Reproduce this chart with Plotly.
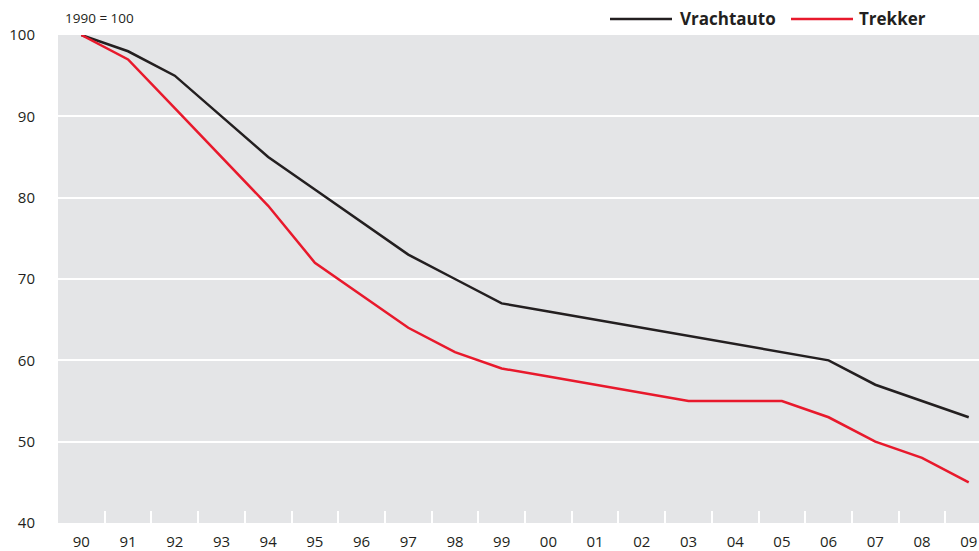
import plotly.graph_objects as go

years = ["90", "91", "92", "93", "94", "95", "96", "97", "98", "99",
         "00", "01", "02", "03", "04", "05", "06", "07", "08", "09"]
vrachtauto = [100, 98, 95, 90, 85, 81, 77, 73, 70, 67,
              66, 65, 64, 63, 62, 61, 60, 57, 55, 53]
trekker = [100, 97, 91, 85, 79, 72, 68, 64, 61, 59,
           58, 57, 56, 55, 55, 55, 53, 50, 48, 45]
series_names = ["Vrachtauto", "Trekker"]
y_ticks = [40, 50, 60, 70, 80, 90, 100]

BLACK = "#231f20"
RED = "#e8192c"
FONT = "Open Sans"

W, H = 979, 551
L, R, T, B = 58, 0, 35, 28
pw, ph = W - L - R, H - T - B

fig = go.Figure()
for name, vals, col in [(series_names[0], vrachtauto, BLACK), (series_names[1], trekker, RED)]:
    fig.add_trace(go.Scatter(x=years, y=vals, mode="lines", name=name,
                             line=dict(color=col, width=2.5), showlegend=False))

# hand-drawn legend (long line keys) in the top-right margin
def px_x(p):
    return (p - L) / pw

def px_y(p):
    return 1 + (T - p) / ph

legend_items = [(series_names[0], BLACK, 610, 672, 678), (series_names[1], RED, 791, 853, 857)]
for name, col, x0, x1, xt in legend_items:
    fig.add_shape(type="line", xref="paper", yref="paper",
                  x0=px_x(x0), x1=px_x(x1), y0=px_y(19), y1=px_y(19),
                  line=dict(color=col, width=2.5))
    fig.add_annotation(text=f"<b>{name}</b>", xref="paper", yref="paper",
                       x=px_x(xt), y=px_y(19), xanchor="left", yanchor="middle",
                       showarrow=False, font=dict(family=FONT, size=17, color=BLACK))

fig.add_annotation(text="1990 = 100", xref="paper", yref="paper",
                   x=px_x(63), y=px_y(18), xanchor="left", yanchor="middle",
                   showarrow=False, font=dict(family=FONT, size=13.5, color=BLACK))

fig.update_layout(
    width=W, height=H,
    margin=dict(l=L, r=R, t=T, b=B),
    paper_bgcolor="white",
    plot_bgcolor="#e4e5e7",
    font=dict(family=FONT, size=15, color=BLACK),
    xaxis=dict(type="category", range=[-0.5, 19.22], showgrid=False, zeroline=False,
               showline=False, ticks="inside", tickson="boundaries", ticklen=12,
               tickwidth=2, tickcolor="white", ticklabelstandoff=8, automargin=False,
               tickfont=dict(family=FONT, size=15, color=BLACK)),
    yaxis=dict(range=[40, 100], tickvals=y_ticks, showgrid=True, gridcolor="white",
               gridwidth=2, zeroline=False, showline=False, ticks="", automargin=False,
               ticklabelstandoff=22, tickfont=dict(family=FONT, size=15, color=BLACK)),
)

fig.write_html("out.html")
